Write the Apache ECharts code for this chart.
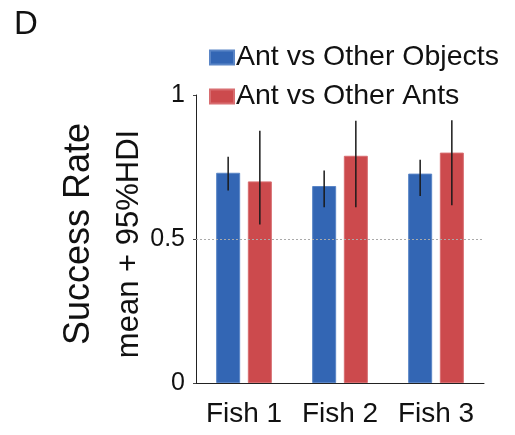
<!DOCTYPE html>
<html>
<head>
<meta charset="utf-8">
<script src="https://cdn.jsdelivr.net/npm/echarts@6/dist/echarts.min.js"></script>
<style>
  html, body { margin: 0; padding: 0; background: #fff; }
  #chart { width: 515px; height: 435px; }
</style>
</head>
<body>
<div id="chart"></div>
<script>
// Success rate per fish, with 95% HDI intervals
const categories = ['Fish 1', 'Fish 2', 'Fish 3'];
const seriesNames = ['Ant vs Other Objects', 'Ant vs Other Ants'];
const objectsMean = [0.730, 0.684, 0.727];
const objectsLow  = [0.668, 0.610, 0.649];
const objectsHigh = [0.786, 0.738, 0.775];
const antsMean = [0.700, 0.789, 0.800];
const antsLow  = [0.550, 0.610, 0.617];
const antsHigh = [0.876, 0.911, 0.912];
const yTicks = [0, 0.5, 1];
const chanceLevel = 0.5;

const BLUE = '#3366b4';
const RED = '#cc4a4d';
const BAR_WIDTH_FRAC = 0.25;
const BAR_GAP_FRAC = 0.32;

function errorSeries(name, low, high, side) {
  return {
    type: 'custom',
    name: name + ' HDI',
    silent: true,
    z: 5,
    data: categories.map((c, i) => [i, low[i], high[i]]),
    renderItem: function (params, api) {
      const band = api.size([1, 0])[0];
      const barW = band * BAR_WIDTH_FRAC;
      const offset = (barW + barW * BAR_GAP_FRAC) / 2 * side;
      const p1 = api.coord([api.value(0), api.value(1)]);
      const p2 = api.coord([api.value(0), api.value(2)]);
      const x = p1[0] + offset;
      return {
        type: 'line',
        shape: { x1: x, y1: p1[1], x2: x, y2: p2[1] },
        style: { stroke: '#1a1a1a', lineWidth: 1.5 }
      };
    }
  };
}

const chart = echarts.init(document.getElementById('chart'), null, { renderer: 'canvas' });

chart.setOption({
  animation: false,
  backgroundColor: '#fff',
  textStyle: { fontFamily: 'Liberation Sans' },
  grid: { left: 196, right: 31, top: 95, bottom: 52 },
  legend: {
    orient: 'vertical',
    left: 204,
    top: 38,
    itemWidth: 24,
    itemHeight: 14,
    itemGap: 10,
    icon: 'rect',
    selectedMode: false,
    data: seriesNames,
    textStyle: {
      fontSize: 28.5,
      lineHeight: 28,
      color: '#111',
      padding: [0, 0, 0, -3],
      fontFamily: 'Liberation Sans'
    }
  },
  xAxis: {
    type: 'category',
    data: categories,
    axisLine: { lineStyle: { color: '#222', width: 1 } },
    axisTick: { alignWithLabel: true, length: 3, lineStyle: { color: '#444' } },
    axisLabel: {
      interval: 0, hideOverlap: false,
      fontSize: 28, color: '#111', margin: 17, fontFamily: 'Liberation Sans'
    }
  },
  yAxis: {
    type: 'value',
    min: yTicks[0],
    max: yTicks[yTicks.length - 1],
    interval: yTicks[1] - yTicks[0],
    axisLine: { show: true, lineStyle: { color: '#222', width: 1 } },
    axisTick: { show: true, length: 3, lineStyle: { color: '#444' } },
    splitLine: { show: false },
    axisLabel: { fontSize: 25, color: '#111', margin: 11, fontFamily: 'Liberation Sans' }
  },
  graphic: [
    {
      type: 'text', left: 14, top: 8,
      style: { text: 'D', font: '33px "Liberation Sans"', fill: '#111' }
    },
    {
      type: 'text', x: 79, y: 234, rotation: Math.PI / 2,
      style: {
        text: 'Success Rate', font: '36px "Liberation Sans"', fill: '#111',
        textAlign: 'center', textVerticalAlign: 'middle'
      }
    },
    {
      type: 'text', x: 129, y: 244, rotation: Math.PI / 2,
      style: {
        text: 'mean + 95%HDI', font: '31px "Liberation Sans"', fill: '#111',
        textAlign: 'center', textVerticalAlign: 'middle'
      }
    }
  ],
  series: [
    {
      name: seriesNames[0],
      type: 'bar',
      data: objectsMean,
      barWidth: (BAR_WIDTH_FRAC * 100) + '%',
      barGap: (BAR_GAP_FRAC * 100) + '%',
      itemStyle: { color: BLUE, borderColor: '#5a85c6', borderWidth: 1 },
      markLine: {
        silent: true,
        symbol: 'none',
        label: { show: false },
        lineStyle: { color: '#aaa', width: 1, type: [2, 2] },
        data: [{ yAxis: chanceLevel }]
      }
    },
    {
      name: seriesNames[1],
      type: 'bar',
      data: antsMean,
      barWidth: (BAR_WIDTH_FRAC * 100) + '%',
      barGap: (BAR_GAP_FRAC * 100) + '%',
      itemStyle: { color: RED, borderColor: '#d86d70', borderWidth: 1 }
    },
    errorSeries(seriesNames[0], objectsLow, objectsHigh, -1),
    errorSeries(seriesNames[1], antsLow, antsHigh, 1)
  ]
});
</script>
</body>
</html>
